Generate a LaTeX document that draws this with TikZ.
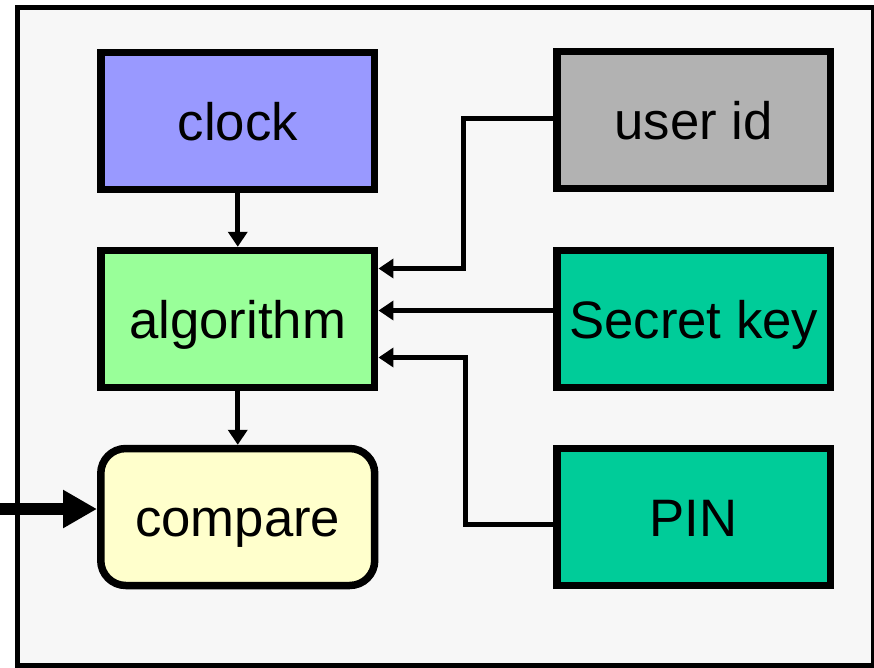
\documentclass[tikz,border=0pt]{standalone}
\usepackage{fontspec}
\setmainfont{Liberation Sans}
\usepackage{tikz}
\usetikzlibrary{arrows.meta, positioning}
\definecolor{clockblue}{HTML}{9999FF}
\definecolor{idgray}{HTML}{B2B2B2}
\definecolor{algogreen}{HTML}{99FF99}
\definecolor{keyteal}{HTML}{00CC99}
\definecolor{cmpyellow}{HTML}{FFFFCC}
\definecolor{framebg}{HTML}{F7F7F7}
\begin{document}
\begin{tikzpicture}[x=0.02cm, y=-0.02cm,
		blk/.style={draw, line width=0.15cm, minimum width=5.48cm, minimum height=2.74cm,
			font=\fontsize{30}{36}\selectfont, inner sep=0pt, text height=0.76cm, text depth=0pt},
		conn/.style={line width=0.1cm, -{Triangle[length=0.3cm, width=0.38cm]}},
		bigconn/.style={line width=0.24cm, -{Triangle[length=0.68cm, width=0.72cm]}}]
		\useasboundingbox (0,0) rectangle (874,667);
		
		% 外框
		\draw[line width=0.11cm, fill=framebg] (17.5,7.5) rectangle (873.5,665.5);
		
		% 方框
		\node[blk, fill=clockblue] (clock) at (237.75,121) {clock};
		\node[blk, fill=idgray] (uid) at (693.75,120) {user id};
		\node[blk, fill=algogreen] (algo) at (237.75,319) {algorithm};
		\node[blk, fill=keyteal] (skey) at (693.75,319) {Secret key};
		\node[blk, fill=cmpyellow, rounded corners=0.5cm] (cmp) at (237.75,517) {compare};
		\node[blk, fill=keyteal] (pin) at (693.75,517) {PIN};
		
		% 连线
		\draw[conn] (clock) -- (algo);
		\draw[conn] (algo) -- (cmp);
		\draw[conn] ([yshift=0.04cm]uid.west) -- ++(-89.5,0) |- ([yshift=1.01cm]algo.east);
		\draw[conn] ([yshift=0.17cm]skey.west) -- ([yshift=0.17cm]algo.east);
		\draw[conn] ([yshift=-0.14cm]pin.west) -- ++(-87.5,0) |- ([yshift=-0.77cm]algo.east);
		
		% 外部输入
		\coordinate (ext) at (0,509);
		\draw[bigconn] (ext) -- (ext -| cmp.west);
	\end{tikzpicture}
\end{document}
